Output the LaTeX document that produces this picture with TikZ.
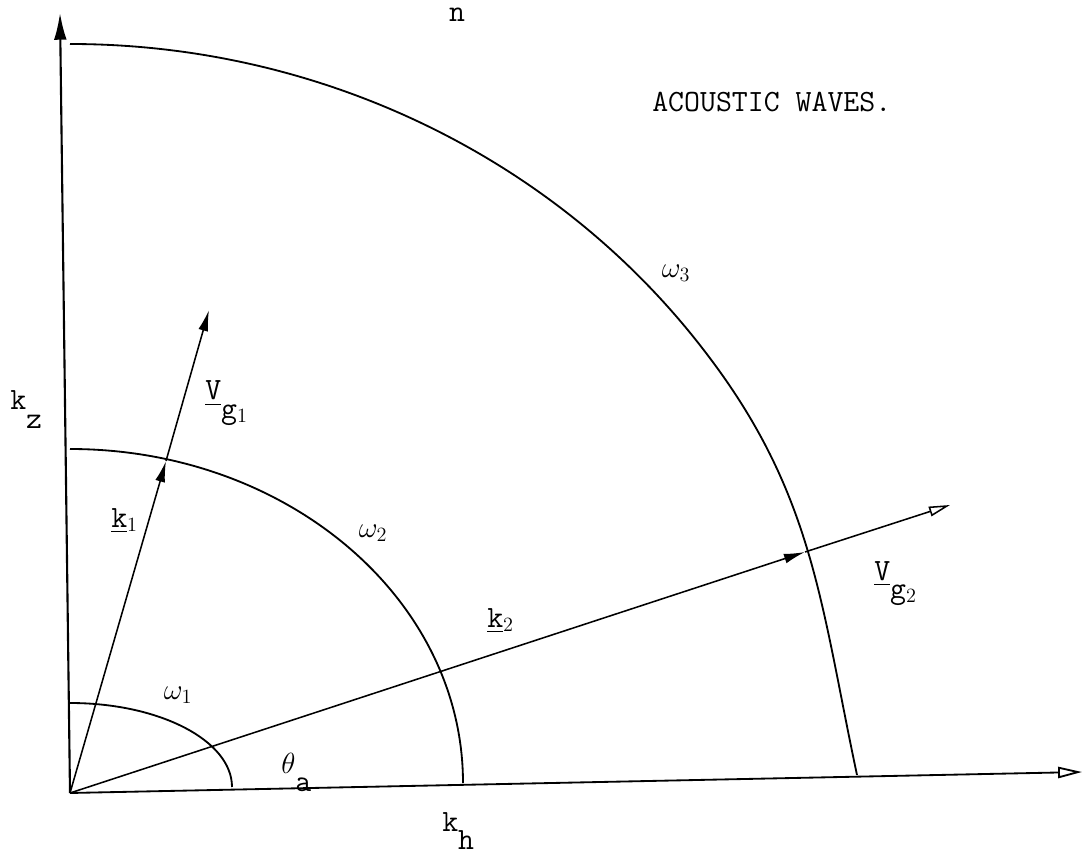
\documentclass[tikz,border=0pt]{standalone}
\usepackage{amsmath,amssymb}
\usetikzlibrary{arrows.meta}
\newcommand{\lowsub}[1]{\raisebox{-0.6em}{#1}}

\begin{document}
\begin{tikzpicture}[x=0.025cm, y=0.025cm,
  axis/.style={line width=1.5pt, -{Latex[length=19pt,width=9pt]}},
  curve/.style={line width=1.3pt},
  vec/.style={line width=1.1pt, -{Latex[length=15pt,width=7pt]}},
  ovec/.style={line width=1.1pt, -{Triangle[open,length=15pt,width=7pt]}},
  lbl/.style={font=\fontsize{22}{26}\selectfont\ttfamily, inner sep=0pt}]
\useasboundingbox (0,0) rectangle (1086,858);
\coordinate (O) at (70,65);
\coordinate (ztip) at (60,845);
\coordinate (htip) at (1082,86);
\coordinate (P1) at (166,397);
\coordinate (G1) at (209,548);
\coordinate (P2) at (805,306);
\coordinate (G2) at (950,353);
\draw[axis] (O) -- (ztip);
\draw[line width=1.3pt, -{Triangle[open,length=17pt,width=8pt]}] (O) -- (htip);
\draw[curve] (232,71) arc[start angle=0, end angle=90, x radius=162, y radius=84];
\draw[curve] (463,75) arc[start angle=0, end angle=90, x radius=393, y radius=334];
\draw[curve] (70,814) arc[start angle=90, end angle=35.5, x radius=786, y radius=749]
  to[out=-53, in=102] (857,83);
\draw[vec] (O) -- (P1);
\draw[vec] (P1) -- (G1);
\draw[vec] (O) -- (P2);
\draw[ovec] (P2) -- (G2);
\node[lbl, anchor=base] (n) at (457,836) {n};
\node[lbl, anchor=base west] (title) at (652,746) {ACOUSTIC WAVES.};
\node[lbl] (w3) at (676,585) {$\omega_3$};
\node[lbl] (w2) at (373,325) {$\omega_2$};
\node[lbl] (w1) at (178,163) {$\omega_1$};
\node[lbl, anchor=base west] (kz) at (10,448) {k\lowsub{z}};
\node[lbl, anchor=base west] (vg1) at (205,458) {\underline{V}\lowsub{g$_1$}};
\node[lbl, anchor=base west] (k1) at (111,331) {\underline{k}$_1$};
\node[lbl, anchor=base west] (k2) at (487,231) {\underline{k}$_2$};
\node[lbl, anchor=base west] (vg2) at (874,278) {\underline{V}\lowsub{g$_2$}};
\node[lbl, anchor=base west] (th) at (281,85) {$\theta$\lowsub{a}};
\node[lbl, anchor=base west] (kh) at (442,27) {k\lowsub{h}};
\end{tikzpicture}
\end{document}
